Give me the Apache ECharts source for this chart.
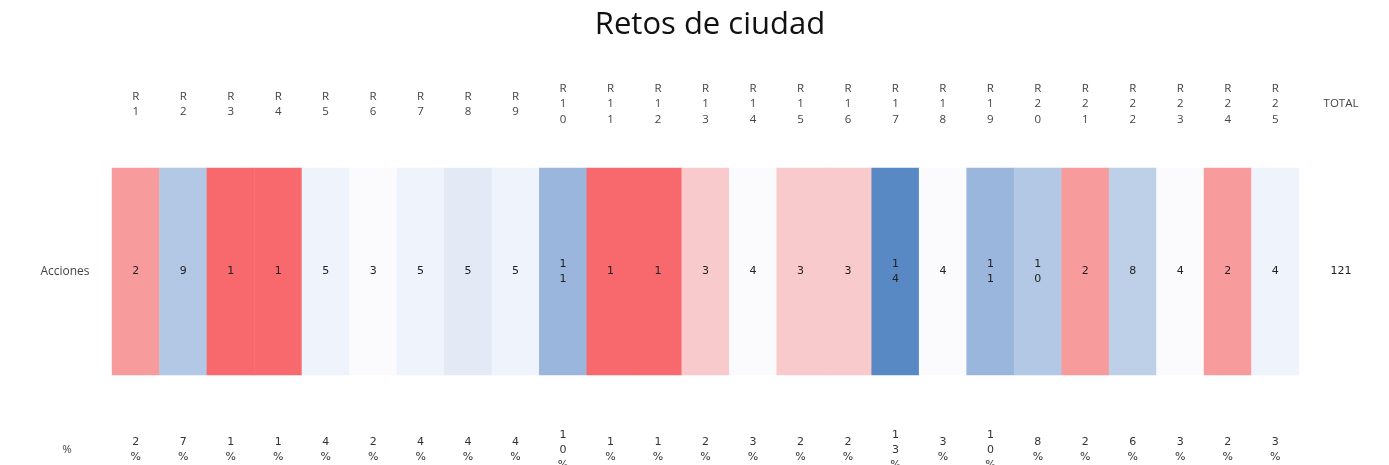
<!DOCTYPE html>
<html>
<head>
<meta charset="utf-8">
<script src="https://cdn.jsdelivr.net/npm/echarts@6/dist/echarts.min.js"></script>
<style>
html,body{margin:0;padding:0;background:#fff;}
#chart{width:1389px;height:465px;}
</style>
</head>
<body>
<div id="chart"></div>
<script>
// ---- data ----
const categories = ['R1','R2','R3','R4','R5','R6','R7','R8','R9','R10','R11','R12','R13','R14','R15','R16','R17','R18','R19','R20','R21','R22','R23','R24','R25'];
const acciones   = [2, 9, 1, 1, 5, 3, 5, 5, 5, 11, 1, 1, 3, 4, 3, 3, 14, 4, 11, 10, 2, 8, 4, 2, 4];
const percents   = [2, 7, 1, 1, 4, 2, 4, 4, 4, 10, 1, 1, 2, 3, 2, 2, 13, 3, 10, 8, 2, 6, 3, 2, 3];
// colour tier of each cell as shown in the picture (negative = red side, positive = blue side)
const tiers      = [-2, 4, -3, -3, 1, 0, 1, 2, 1, 5, -3, -3, -1, 0, -1, -1, 6, 0, 5, 4, -2, 3, 0, -2, 1];
const rowLabels  = ['Acciones', '%'];
const totalLabel = 'TOTAL';

// ---- style ----
const tierColors = {
  '-3': '#F7696D', '-2': '#F89B9C', '-1': '#F8CACC', '0': '#FBFBFD',
  '1': '#EFF3FB', '2': '#E3E9F5', '3': '#BDD0E8', '4': '#B3C8E4',
  '5': '#9AB6DC', '6': '#5889C4'
};
const labelFont = 'DejaVu Sans';
const headFont = 'Open Sans';
const stack = s => String(s).split('').join('\n');

const total = acciones.reduce((a, b) => a + b, 0);

const heatData = acciones.map((v, i) => [i, 0, v, tiers[i]]);
const pctData = percents.map((p, i) => [i, 0, p]);

const GL = 112, GR = 1389 - 1299;

const chart = echarts.init(document.getElementById('chart'), null, {renderer: 'canvas'});
chart.setOption({
  animation: false,
  backgroundColor: '#ffffff',
  title: {
    text: 'Retos de ciudad',
    left: 705, textAlign: 'center', top: 5,
    textStyle: {fontFamily: headFont, fontSize: 31, fontWeight: 'normal', color: '#111'}
  },
  grid: [
    {left: GL, right: GR, top: 168, height: 207},
    {left: GL, right: GR, top: 435, height: 30},
    {left: 1299, width: 84, top: 168, height: 207}
  ],
  xAxis: [
    {gridIndex: 0, type: 'category', data: categories, position: 'top',
     axisLine: {show: false}, axisTick: {show: false}, splitLine: {show: false},
     axisLabel: {interval: 0, margin: 64, verticalAlign: 'middle', formatter: v => stack(v),
       fontFamily: headFont, fontSize: 11.5, lineHeight: 15.5, color: '#444'}},
    {gridIndex: 1, type: 'category', data: categories, show: false},
    {gridIndex: 2, type: 'category', data: [totalLabel], position: 'top',
     axisLine: {show: false}, axisTick: {show: false}, splitLine: {show: false},
     axisLabel: {interval: 0, margin: 64, verticalAlign: 'middle',
       fontFamily: headFont, fontSize: 11.5, color: '#444'}}
  ],
  yAxis: [
    {gridIndex: 0, type: 'category', data: [rowLabels[0]],
     axisLine: {show: false}, axisTick: {show: false}, splitLine: {show: false},
     axisLabel: {margin: 47, align: 'center', fontFamily: headFont, fontSize: 12, color: '#444'}},
    {gridIndex: 1, type: 'category', data: [rowLabels[1]],
     axisLine: {show: false}, axisTick: {show: false}, splitLine: {show: false},
     axisLabel: {margin: 45, align: 'center', fontFamily: headFont, fontSize: 11.5, color: '#444'}},
    {gridIndex: 2, type: 'category', data: [rowLabels[0]], show: false}
  ],
  visualMap: {
    show: false, type: 'piecewise', dimension: 3, seriesIndex: 0,
    pieces: Object.keys(tierColors).map(k => ({value: Number(k), color: tierColors[k]}))
  },
  series: [
    {type: 'heatmap', xAxisIndex: 0, yAxisIndex: 0, data: heatData,
     label: {show: true, formatter: p => stack(p.value[2]),
       fontFamily: labelFont, fontSize: 11, lineHeight: 15.5, color: '#222'},
     emphasis: {disabled: true}},
    {type: 'heatmap', xAxisIndex: 1, yAxisIndex: 1, data: pctData,
     itemStyle: {color: 'rgba(255,255,255,0)'},
     label: {show: true, formatter: p => stack(p.value[2] + '%'),
       fontFamily: labelFont, fontSize: 11, lineHeight: 15, color: '#333'},
     emphasis: {disabled: true}},
    {type: 'heatmap', xAxisIndex: 2, yAxisIndex: 2, data: [[0, 0, total]],
     itemStyle: {color: 'rgba(255,255,255,0)'},
     label: {show: true, formatter: p => String(p.value[2]),
       fontFamily: labelFont, fontSize: 11, color: '#222'},
     emphasis: {disabled: true}}
  ]
});
</script>
</body>
</html>
